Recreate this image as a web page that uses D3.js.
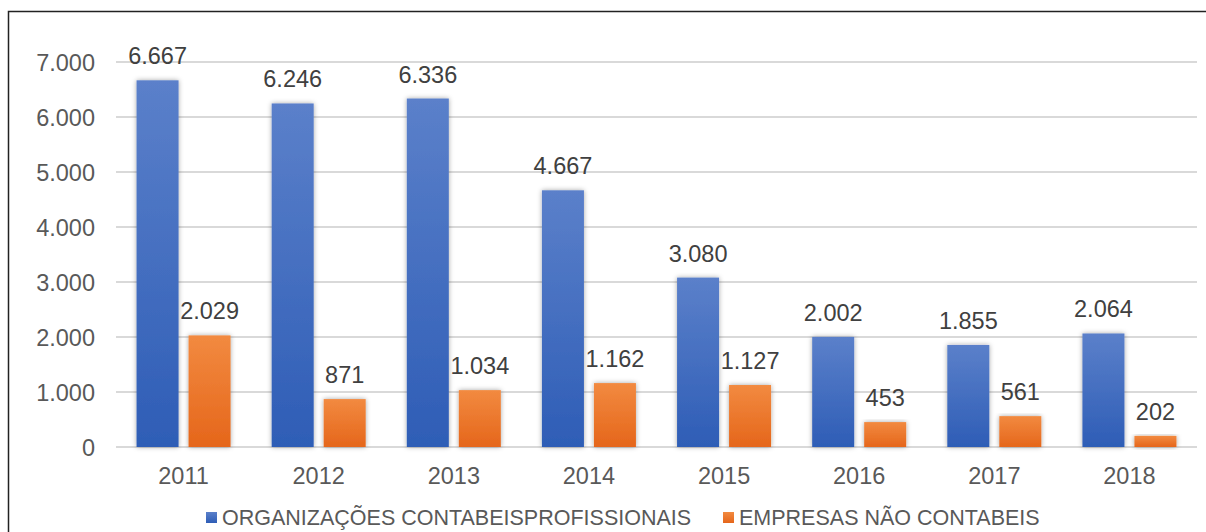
<!DOCTYPE html>
<html>
<head>
<meta charset="utf-8">
<script src="https://cdn.jsdelivr.net/npm/d3@7"></script>
<style>
  body { margin: 0; background: #fff; }
  svg { display: block; font-family: 'Liberation Sans', Arial, sans-serif; }
</style>
</head>
<body>
<svg id="chart" width="1206" height="532"></svg>
<script>
const years = ['2011', '2012', '2013', '2014', '2015', '2016', '2017', '2018']
const organizacoes = [6667, 6246, 6336, 4667, 3080, 2002, 1855, 2064]
const empresas = [2029, 871, 1034, 1162, 1127, 453, 561, 202]
const seriesNames = ['ORGANIZAÇÕES CONTABEISPROFISSIONAIS', 'EMPRESAS NÃO CONTABEIS']
const yTicks = [0, 1000, 2000, 3000, 4000, 5000, 6000, 7000]

const width = 1206
const height = 532
const plotLeft = 116
const plotRight = 1197
const plotTop = 62
const plotBottom = 447

const svg = d3.select('#chart')

const defs = svg.append('defs')
const grads = [['gBlue', '#5b80ca', '#2e5db6'], ['gOrange', '#f28a40', '#e5661b']]
grads.forEach(([id, c1, c2]) => {
    const g = defs.append('linearGradient').attr('id', id)
        .attr('x1', 0).attr('y1', 0).attr('x2', 0).attr('y2', 1)
    g.append('stop').attr('offset', '0%').attr('stop-color', c1)
    g.append('stop').attr('offset', '100%').attr('stop-color', c2)
})
const shadow = defs.append('filter').attr('id', 'shadow')
    .attr('x', '-30%').attr('y', '-10%').attr('width', '160%').attr('height', '130%')
shadow.append('feDropShadow').attr('dx', 0).attr('dy', 0).attr('stdDeviation', 2.5)
    .attr('flood-color', '#000').attr('flood-opacity', 0.35)

// frame
svg.append('path')
    .attr('d', `M8.5,${height + 5} V11.5 H${width + 5}`)
    .attr('fill', 'none').attr('stroke', '#222').attr('stroke-width', 1.5)

const x = d3.scaleBand().domain(years).range([plotLeft, plotRight])
const y = d3.scaleLinear().domain([0, 7000]).range([plotBottom, plotTop])
const barW = 42
const gap = 10

const fmt = v => d3.format(',')(v).replace(/,/g, '.')

// grid
svg.append('g').selectAll('line')
    .data(yTicks)
    .enter()
    .append('line')
    .attr('x1', plotLeft).attr('x2', plotRight)
    .attr('y1', d => y(d)).attr('y2', d => y(d))
    .attr('stroke', '#d9d9d9').attr('stroke-width', 2)

// y labels
svg.append('g').selectAll('text')
    .data(yTicks)
    .enter()
    .append('text')
    .attr('x', 95)
    .attr('y', d => y(d) + 8.5)
    .attr('text-anchor', 'end')
    .attr('font-size', 23.5)
    .attr('fill', '#595959')
    .text(d => fmt(d))

// x labels
svg.append('g').selectAll('text')
    .data(years)
    .enter()
    .append('text')
    .attr('x', d => x(d) + x.bandwidth() / 2)
    .attr('y', 484)
    .attr('text-anchor', 'middle')
    .attr('font-size', 23.5)
    .attr('fill', '#595959')
    .text(d => d)

const series = [
    { values: organizacoes, fill: 'url(#gBlue)', off: -(gap / 2 + barW) },
    { values: empresas, fill: 'url(#gOrange)', off: gap / 2 }
]

series.forEach(s => {
    const g = svg.append('g')
    g.selectAll('rect')
        .data(s.values)
        .enter()
        .append('rect')
        .attr('x', (d, i) => x(years[i]) + x.bandwidth() / 2 + s.off)
        .attr('y', d => y(d))
        .attr('width', barW)
        .attr('height', d => plotBottom - y(d))
        .attr('fill', s.fill)
        .attr('filter', 'url(#shadow)')
    g.selectAll('text')
        .data(s.values)
        .enter()
        .append('text')
        .attr('x', (d, i) => x(years[i]) + x.bandwidth() / 2 + s.off + barW / 2)
        .attr('y', d => y(d) - 16)
        .attr('text-anchor', 'middle')
        .attr('font-size', 23.5)
        .attr('fill', '#404040')
        .text(d => fmt(d))
})

// legend
const legend = [
    { name: seriesNames[0], color: 'url(#gBlue)', x: 206 },
    { name: seriesNames[1], color: 'url(#gOrange)', x: 723 }
]
legend.forEach(l => {
    svg.append('rect').attr('x', l.x).attr('y', 512).attr('width', 11).attr('height', 11).attr('fill', l.color)
    svg.append('text').attr('x', l.x + 16).attr('y', 525)
        .attr('font-size', 21.5).attr('fill', '#595959').text(l.name)
})
</script>
</body>
</html>
